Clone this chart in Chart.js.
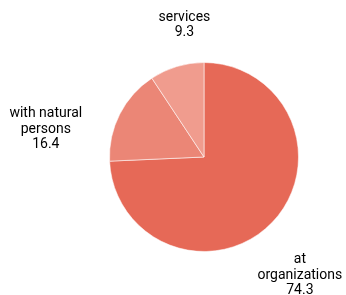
<!DOCTYPE html>
<html>
<head>
<meta charset="utf-8">
<script src="https://cdn.jsdelivr.net/npm/chart.js@4.4.1/dist/chart.umd.min.js"></script>
<style>
  html, body { margin: 0; padding: 0; background: #ffffff; }
  #wrap { width: 346px; height: 295px; }
</style>
</head>
<body>
<div id="wrap"><canvas id="pieChart" width="346" height="295"></canvas></div>
<script>
const categories = [["at", "organizations"], ["with natural", "persons"], ["services"]];
const shares = [74.3, 16.4, 9.3];
const sliceColors = ["#e66957", "#eb8676", "#f09c8e"];

// label placement: angle shift from slice middle (deg) and distance in radii
const labelShift = [7.2, -17, 8.3];
const labelDist = [1.61, 1.70, 1.41];

const outsideLabels = {
  id: "outsideLabels",
  afterDatasetsDraw(chart) {
    const ctx = chart.ctx;
    const arcs = chart.getDatasetMeta(0).data;
    ctx.save();
    ctx.font = "14px Roboto";
    ctx.fillStyle = "#000000";
    ctx.textAlign = "center";
    ctx.textBaseline = "middle";
    arcs.forEach((arc, i) => {
      const mid = (arc.startAngle + arc.endAngle) / 2 + labelShift[i] * Math.PI / 180;
      const r = arc.outerRadius * labelDist[i];
      const cx = arc.x + Math.cos(mid) * r;
      const cy = arc.y + Math.sin(mid) * r;
      const lines = categories[i].concat([shares[i].toFixed(1)]);
      const lineHeight = 15.5;
      const top = cy - (lines.length - 1) * lineHeight / 2;
      lines.forEach((line, j) => {
        ctx.fillText(line, cx, top + j * lineHeight);
      });
    });
    ctx.restore();
  },
};

new Chart(document.getElementById("pieChart"), {
  type: "pie",
  data: {
    labels: categories.map((c) => c.join(" ")),
    datasets: [
      {
        data: shares,
        backgroundColor: sliceColors,
        borderColor: "rgba(255,255,255,0.55)",
        borderWidth: 1,
      },
    ],
  },
  options: {
    responsive: false,
    animation: false,
    layout: {
      padding: { left: 109, right: 47, top: 62, bottom: 43 },
    },
    plugins: {
      legend: { display: false },
      tooltip: { enabled: false },
    },
  },
  plugins: [outsideLabels],
});
</script>
</body>
</html>
